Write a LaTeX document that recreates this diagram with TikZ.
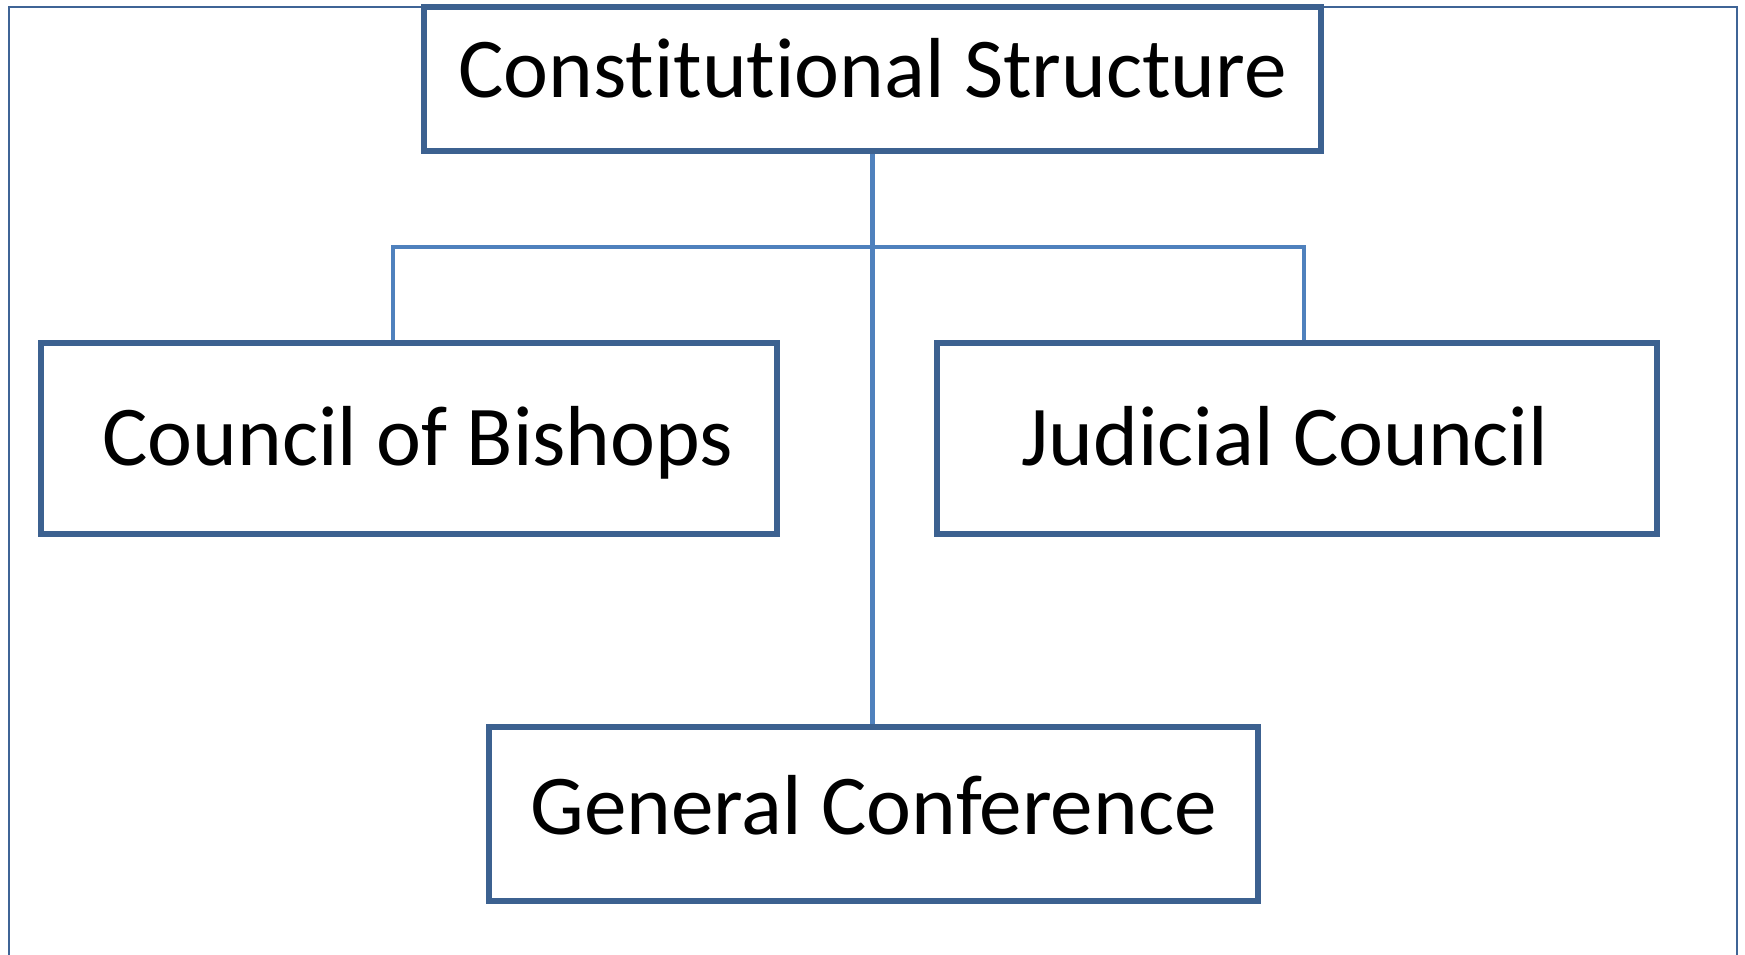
\documentclass[tikz,border=0pt]{standalone}
\usepackage{fontspec}
\setmainfont[Ligatures=NoCommon]{Carlito}
\definecolor{boxline}{HTML}{3C6190}
\definecolor{connline}{HTML}{4F81BD}
\definecolor{frameline}{HTML}{3F6496}
\begin{document}
\begin{tikzpicture}[x=0.5pt,y=-0.5pt,
  orgbox/.style={draw=boxline, line width=2.6pt, rectangle, inner sep=0pt, text depth=0pt,
    font=\fontsize{42.6pt}{52pt}\selectfont},
  conn/.style={draw=connline, line width=2.2pt},
  frame/.style={draw=frameline, line width=1.3pt}]
\useasboundingbox (0,0) rectangle (1745,954);
\draw[frame] (9,970) -- (9,7) -- (1737,7) -- (1737,970);
\node[orgbox, minimum width=448.5pt, minimum height=72pt, text height=18pt] (top) at (872.5,79) {Constitutional Structure};
\node[orgbox, minimum width=368pt, minimum height=95.5pt, text height=27pt] (cob) at (409,438.5) {\kern9pt Council of Bishops};
\node[orgbox, minimum width=360pt, minimum height=95.5pt, text height=27pt] (jc) at (1297,438.5) {Judicial Council\kern12pt};
\node[orgbox, minimum width=384.5pt, minimum height=87pt, text height=20pt] (gen) at (873.5,814) {General Conference};
\coordinate (jL) at (393,247);
\coordinate (jR) at (1304,247);
\draw[conn] (top.south) -- (gen.north -| top.south);
\draw[conn] (cob.north -| jL) -- (jL) -- (jR) -- (jc.north -| jR);
\end{tikzpicture}
\end{document}
